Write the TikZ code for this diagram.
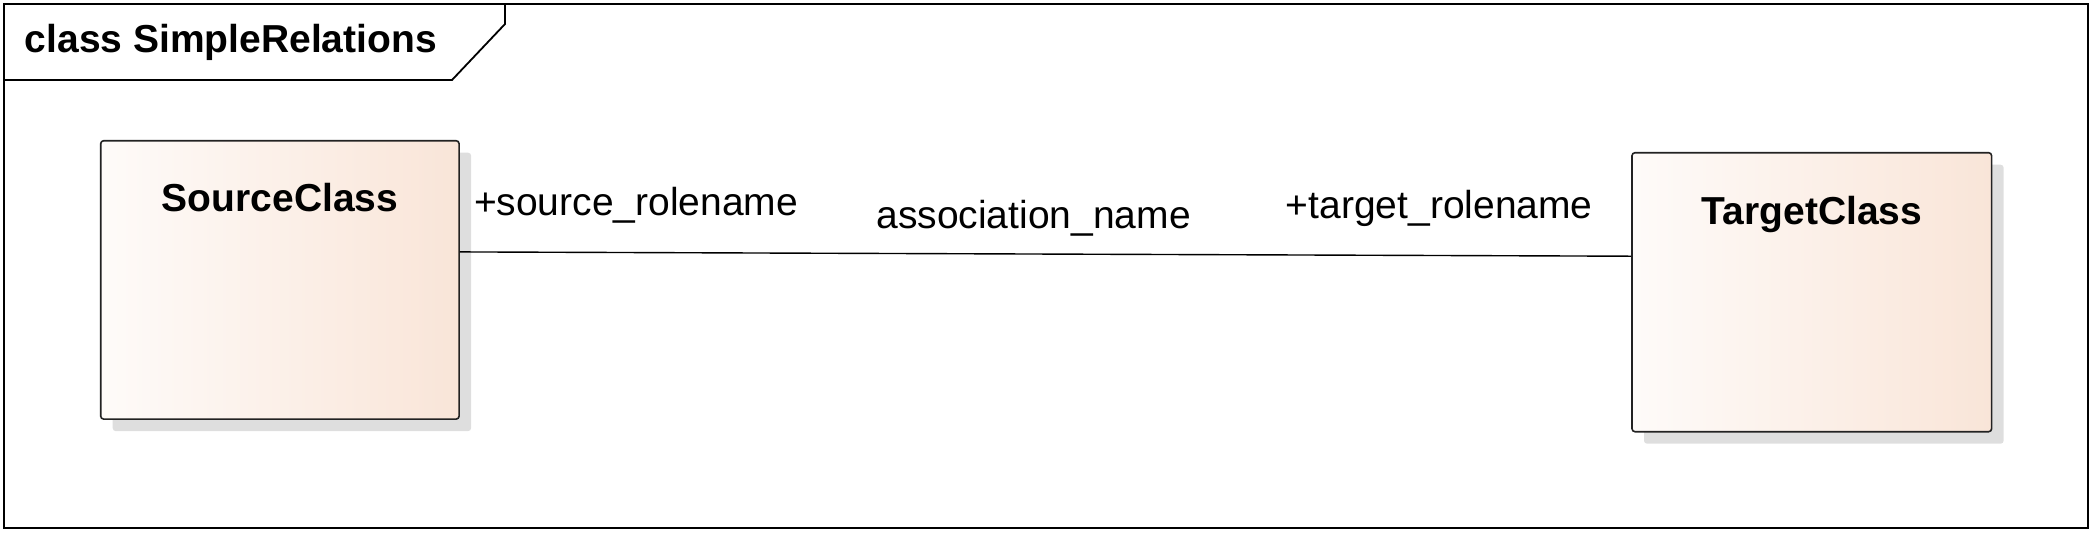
\documentclass[tikz,border=0pt]{standalone}
\usepackage{fontspec}
\setmainfont{Liberation Sans}
\usetikzlibrary{shadows,calc}
\definecolor{gradL}{RGB}{254,251,249}
\definecolor{gradR}{RGB}{249,229,216}
\definecolor{shadowgray}{RGB}{222,222,222}
\definecolor{boxline}{RGB}{34,34,34}
\tikzset{
  classbox/.style={draw=boxline, line width=0.8pt, rounded corners=1.5pt,
    left color=gradL, right color=gradR, inner sep=0pt,
    drop shadow={shadow xshift=6pt, shadow yshift=-6pt, fill=shadowgray, opacity=1}},
  classname/.style={font=\fontsize{19.5}{23}\selectfont\bfseries, anchor=base, inner sep=0pt},
  rolelabel/.style={font=\fontsize{19.5}{23}\selectfont, anchor=base west, inner sep=0pt},
  framestyle/.style={draw=black, line width=0.9pt},
  assoc/.style={draw=black, line width=0.7pt}
}
\begin{document}
\begin{tikzpicture}[x=0.5pt, y=-0.5pt]
\useasboundingbox (0,0) rectangle (2092,532);
% frame
\draw[framestyle] (4,4) rectangle (2088,528);
\draw[framestyle] (4,80) -- (452,80) -- (505,24) -- (505,4);
\node[font=\fontsize{19.5}{23}\selectfont\bfseries, anchor=base west, inner sep=0pt] (title) at (24.5,52) {class SimpleRelations};
% classes
\node[classbox, minimum width=179.2pt, minimum height=139.2pt] (src) at (279.9,279.9) {};
\node[classbox, minimum width=179.8pt, minimum height=139.5pt] (tgt) at (1811.8,292.2) {};
\node[classname] (srcname) at (280,211.7) {SourceClass};
\node[classname] (tgtname) at (1812,224.3) {TargetClass};
% association
\draw[assoc] ([yshift=14pt]src.east) -- ([yshift=18pt]tgt.west);
\node[rolelabel] (srole) at (473.6,215) {+source\_rolename};
\node[rolelabel] (aname) at (876,228) {association\_name};
\node[rolelabel] (trole) at (1285.5,218) {+target\_rolename};
\end{tikzpicture}
\end{document}
